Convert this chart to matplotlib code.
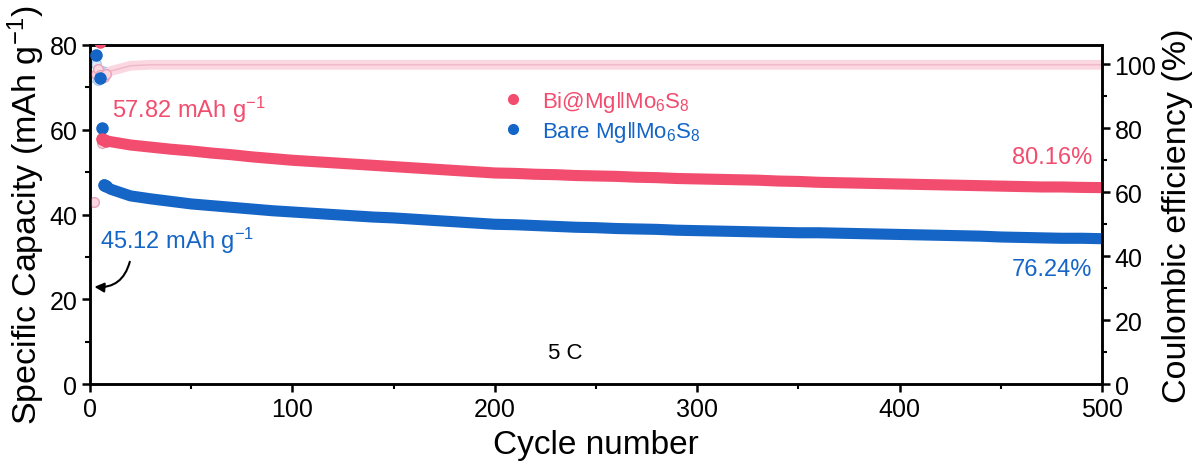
# Ciclagem a 5 C: capacidade específica e eficiência coulômbica.

import matplotlib
matplotlib.use("Agg")
import matplotlib.pyplot as plt
from matplotlib.lines import Line2D
import numpy as np

plt.rcParams["font.family"] = ["Liberation Sans", "DejaVu Sans"]
plt.rcParams["mathtext.fontset"] = "custom"
plt.rcParams["mathtext.rm"] = "Liberation Sans"
plt.rcParams["mathtext.default"] = "regular"

# Ciclos iniciais (lidos um a um) e depois de 10 em 10
ciclos_bi_ini = [5, 6, 7, 8]
cap_bi_ini = [80.6, 57.9, 57.6, 57.4]
ciclos_bare_ini = [3, 5, 6, 7, 8]
cap_bare_ini = [77.6, 72.1, 60.3, 47.0, 46.7]

ciclos = np.arange(10, 501, 10)
cap_bi = [57.2, 56.4, 55.9, 55.4, 55.0, 54.5, 54.1, 53.6, 53.2, 52.8,
          52.5, 52.2, 51.9, 51.6, 51.3, 51.0, 50.7, 50.4, 50.1, 49.8,
          49.7, 49.5, 49.4, 49.2, 49.1, 49.0, 48.8, 48.7, 48.5, 48.4,
          48.3, 48.2, 48.1, 47.9, 47.8, 47.6, 47.5, 47.4, 47.3, 47.2,
          47.1, 47.0, 46.9, 46.8, 46.7, 46.6, 46.5, 46.5, 46.4, 46.35]
cap_bare = [46.0, 44.4, 43.7, 43.1, 42.5, 42.1, 41.7, 41.3, 40.9, 40.6,
            40.3, 40.0, 39.7, 39.4, 39.2, 38.9, 38.6, 38.3, 38.0, 37.7,
            37.6, 37.4, 37.2, 37.0, 36.9, 36.7, 36.6, 36.5, 36.3, 36.2,
            36.1, 36.0, 35.9, 35.8, 35.7, 35.7, 35.6, 35.5, 35.4, 35.3,
            35.2, 35.1, 35.0, 34.9, 34.7, 34.6, 34.5, 34.4, 34.4, 34.3]

# Eficiência coulômbica (%)
ciclos_ce_ini = [2, 3, 4, 5, 6, 7, 8]
ce_bi_ini = [57.0, 97.0, 98.5, 96.5, 75.5, 96.0, 96.8]
ce_bare_ini = [96.0, 100.0, 95.0, 97.5, 98.0, 97.0, 97.5]
ce_bi = [97.8, 99.5, 99.8, 99.8, 99.8, 99.8, 99.8, 99.8, 99.8, 99.8,
         99.8, 99.8, 99.8, 99.8, 99.8, 99.8, 99.8, 99.8, 99.8, 99.8,
         99.8, 99.8, 99.8, 99.8, 99.8, 99.8, 99.8, 99.8, 99.8, 99.8,
         99.8, 99.8, 99.8, 99.8, 99.8, 99.8, 99.8, 99.8, 99.8, 99.8,
         99.8, 99.8, 99.8, 99.8, 99.8, 99.8, 99.8, 99.8, 99.8, 99.8]

VERMELHO = "#F24C6E"
AZUL = "#1565C6"
ROSA_BORDA = "#E8A3B8"
ROSA_FACE = "#FAD7E1"
AZUL_CLARO = "#A9C9EE"

figura = plt.figure(figsize=(11.92, 4.64), dpi=100)
eixo = figura.add_axes([0.0755, 0.170, 0.849, 0.731])
eixo2 = eixo.twinx()
# capacidade por cima da eficiência
eixo.set_zorder(eixo2.get_zorder() + 1)
eixo.patch.set_visible(False)

# Eficiência coulômbica no eixo da direita
eixo2.plot(ciclos_ce_ini, ce_bare_ini, "o", markersize=7, markerfacecolor="#DCE8F7",
           markeredgecolor=AZUL_CLARO, markeredgewidth=1, zorder=1)
eixo2.plot([8] + list(ciclos), [96.8] + ce_bi, color=ROSA_FACE, linewidth=7,
           solid_capstyle="round", zorder=2)
eixo2.plot([8] + list(ciclos), [96.8] + ce_bi, color=ROSA_BORDA, linewidth=1.0,
           alpha=0.6, zorder=2)
eixo2.plot(ciclos_ce_ini, ce_bi_ini, "o", markersize=7, markerfacecolor=ROSA_FACE,
           markeredgecolor=ROSA_BORDA, markeredgewidth=1, zorder=3)

# Capacidade: banda espessa + esferas
x_bi = ciclos_bi_ini[1:] + list(ciclos)
y_bi = cap_bi_ini[1:] + cap_bi
x_bare = ciclos_bare_ini[3:] + list(ciclos)
y_bare = cap_bare_ini[3:] + cap_bare
for x, y, cor in [(x_bi, y_bi, VERMELHO), (x_bare, y_bare, AZUL)]:
    eixo.plot(x, y, color=cor, linewidth=8, solid_capstyle="round", zorder=2)
eixo.plot(ciclos_bare_ini, cap_bare_ini, "o", color=AZUL, markersize=8, zorder=3)
eixo.plot(ciclos_bi_ini, cap_bi_ini, "o", color=VERMELHO, markersize=8, zorder=3)

# Eixos
eixo.set_xlim(0, 500)
eixo.set_ylim(0, 80)
eixo2.set_ylim(0, 106)
eixo.set_xticks([0, 100, 200, 300, 400, 500])
eixo.set_xticks([50, 150, 250, 350, 450], minor=True)
eixo.set_yticks([0, 20, 40, 60, 80])
eixo.set_yticks([10, 30, 50, 70], minor=True)
eixo2.set_yticks([0, 20, 40, 60, 80, 100])
eixo2.set_yticks([10, 30, 50, 70, 90], minor=True)
for e in (eixo, eixo2):
    e.tick_params(which="major", direction="out", length=6, width=1.8,
                  labelsize=18, pad=3)
    e.tick_params(which="minor", direction="out", length=3.5, width=1.5)
    for lado in e.spines.values():
        lado.set_linewidth(1.8)

eixo.set_xlabel("Cycle number", fontsize=24, labelpad=6)
eixo.set_ylabel("Specific Capacity (mAh g$^{-1}$)", fontsize=24.5, labelpad=2)
eixo2.set_ylabel("Coulombic efficiency (%)", fontsize=24.5, labelpad=4)

# Anotações
eixo.text(11, 64.9, "57.82 mAh g$^{-1}$", color=VERMELHO, fontsize=17, va="center")
eixo.text(5, 34.0, "45.12 mAh g$^{-1}$", color=AZUL, fontsize=17, va="center")
eixo.text(495, 53.5, "80.16%", color=VERMELHO, fontsize=17, va="center", ha="right")
eixo.text(495, 27.1, "76.24%", color=AZUL, fontsize=17, va="center", ha="right")
eixo.text(235, 7.5, "5 C", fontsize=16, va="center", ha="center")
eixo.annotate("", xy=(0.8, 23.0), xytext=(20, 29.5),
              arrowprops=dict(arrowstyle="-|>", color="black", lw=1.5,
                              connectionstyle="arc3,rad=-0.45",
                              mutation_scale=14))

# Legenda
alcas = [Line2D([], [], linestyle="none", marker="o", markersize=7,
                color=VERMELHO, label="Bi@Mg‖Mo$_6$S$_8$"),
         Line2D([], [], linestyle="none", marker="o", markersize=7,
                color=AZUL, label="Bare Mg‖Mo$_6$S$_8$")]
eixo.legend(handles=alcas, loc="upper left", bbox_to_anchor=(0.376, 0.93),
            frameon=False, fontsize=16, labelcolor="markerfacecolor",
            handletextpad=0.3, labelspacing=0.25)

figura.savefig("out.png", dpi=100)
